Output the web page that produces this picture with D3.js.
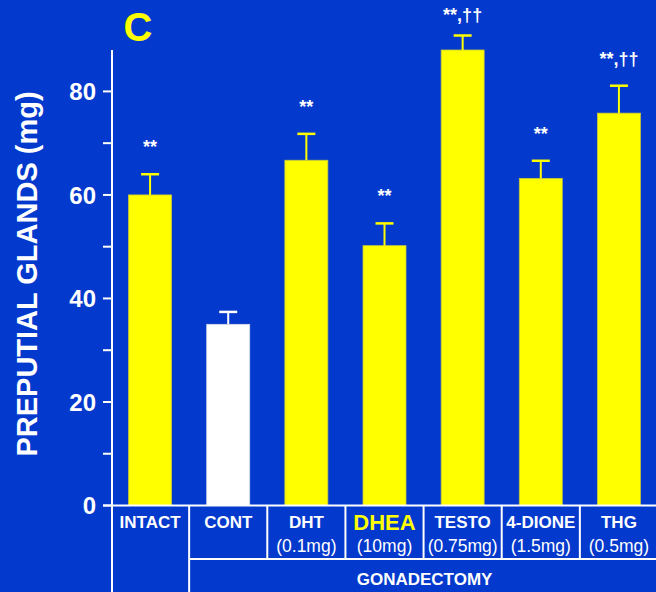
<!DOCTYPE html>
<html>
<head>
<meta charset="utf-8">
<script src="https://cdn.jsdelivr.net/npm/d3@7"></script>
<style>
  html, body { margin: 0; padding: 0; background: #0339cc; }
  svg { display: block; }
  text { font-family: "Liberation Sans", Arial, sans-serif; }
</style>
</head>
<body>
<svg id="chart" width="656" height="592"></svg>
<script>
// ---- data ----
const categories = ["INTACT", "CONT", "DHT", "DHEA", "TESTO", "4-DIONE", "THG"];
const doses      = ["", "", "(0.1mg)", "(10mg)", "(0.75mg)", "(1.5mg)", "(0.5mg)"];
const means      = [60.0, 35.0, 66.7, 50.2, 88.0, 63.2, 75.8];
const errors     = [4.0, 2.4, 5.1, 4.3, 2.8, 3.4, 5.3];
const signif     = ["**", "", "**", "**", "**,††", "**", "**,††"];
const barColors  = ["#ffff00", "#ffffff", "#ffff00", "#ffff00", "#ffff00", "#ffff00", "#ffff00"];
const yTicksMajor = [0, 20, 40, 60, 80];
const yTicksMinor = [10, 30, 50, 70];
const yTitle = "PREPUTIAL GLANDS (mg)";
const panelLabel = "C";
const groupLabel = "GONADECTOMY";

// ---- layout ----
const svg = d3.select("#chart");
const W = 656, H = 592;
const axisX = 112;
const x = d3.scaleBand().domain(categories).range([111, 658]).paddingInner(0.45).paddingOuter(0.225);
const y = d3.scaleLinear().domain([0, 88]).range([505.5, 50]);
const white = "#ffffff", yellow = "#ffff00";

svg.append("rect").attr("width", W).attr("height", H).attr("fill", "#0339cc");

// bars
const data = categories.map((c, i) => ({c, dose: doses[i], m: means[i], e: errors[i], s: signif[i], col: barColors[i]}));
const g = svg.append("g");
g.selectAll("rect.bar").data(data).join("rect")
  .attr("class", "bar")
  .attr("x", d => x(d.c)).attr("width", x.bandwidth())
  .attr("y", d => y(d.m)).attr("height", d => y(0) - y(d.m))
  .attr("fill", d => d.col)
  .attr("stroke", d => d.col === yellow ? "#c9c83a" : "#d8dbe8").attr("stroke-width", 0.8);

// error bars
const capW = 18;
g.selectAll("line.stem").data(data).join("line")
  .attr("x1", d => x(d.c) + x.bandwidth() / 2).attr("x2", d => x(d.c) + x.bandwidth() / 2)
  .attr("y1", d => y(d.m)).attr("y2", d => y(d.m + d.e))
  .attr("stroke", d => d.col).attr("stroke-width", 2);
g.selectAll("line.cap").data(data).join("line")
  .attr("x1", d => x(d.c) + x.bandwidth() / 2 - capW / 2).attr("x2", d => x(d.c) + x.bandwidth() / 2 + capW / 2)
  .attr("y1", d => y(d.m + d.e)).attr("y2", d => y(d.m + d.e))
  .attr("stroke", d => d.col).attr("stroke-width", 2.5);

// significance marks
g.selectAll("text.sig").data(data.filter(d => d.s)).join("text")
  .attr("x", d => x(d.c) + x.bandwidth() / 2)
  .attr("y", d => Math.max(21, y(d.m + d.e) - 21))
  .attr("text-anchor", "middle")
  .attr("fill", white).attr("font-weight", "bold").attr("font-size", 18)
  .text(d => d.s);

// y axis
const ya = svg.append("g");
ya.append("line").attr("x1", axisX).attr("x2", axisX).attr("y1", y(88)).attr("y2", H)
  .attr("stroke", white).attr("stroke-width", 2);
ya.selectAll("line.maj").data(yTicksMajor).join("line")
  .attr("x1", axisX - 9).attr("x2", axisX).attr("y1", d => y(d)).attr("y2", d => y(d))
  .attr("stroke", white).attr("stroke-width", 2);
ya.selectAll("line.min").data(yTicksMinor).join("line")
  .attr("x1", axisX - 9).attr("x2", axisX).attr("y1", d => y(d)).attr("y2", d => y(d))
  .attr("stroke", white).attr("stroke-width", 2);
ya.selectAll("text.tl").data(yTicksMajor).join("text")
  .attr("x", 96).attr("y", d => y(d)).attr("dy", "0.36em")
  .attr("text-anchor", "end").attr("fill", white)
  .attr("font-weight", "bold").attr("font-size", 24)
  .text(d => d);

svg.append("text")
  .attr("transform", `translate(37, ${274}) rotate(-90)`)
  .attr("text-anchor", "middle").attr("fill", white)
  .attr("font-weight", "bold").attr("font-size", 29)
  .text(yTitle);

svg.append("text")
  .attr("x", 138).attr("y", 41).attr("text-anchor", "middle")
  .attr("fill", yellow).attr("font-weight", "bold").attr("font-size", 40)
  .text(panelLabel);

// category table
const tb = svg.append("g");
const base = y(0);
const row2 = 559;
tb.append("line").attr("x1", axisX - 9).attr("x2", W).attr("y1", base).attr("y2", base)
  .attr("stroke", white).attr("stroke-width", 2);
const edges = categories.slice(1).map(c => x(c) - x.step() * x.paddingInner() / 2);
tb.append("line").attr("x1", edges[0]).attr("x2", W).attr("y1", row2).attr("y2", row2)
  .attr("stroke", white).attr("stroke-width", 2);
tb.selectAll("line.sep").data(edges).join("line")
  .attr("x1", d => d).attr("x2", d => d)
  .attr("y1", base).attr("y2", (d, i) => i === 0 ? H : row2)
  .attr("stroke", white).attr("stroke-width", 2);

tb.selectAll("text.cat").data(data).join("text")
  .attr("x", d => x(d.c) + x.bandwidth() / 2)
  .attr("y", d => d.c === "DHEA" ? 530 : 528)
  .attr("text-anchor", "middle")
  .attr("fill", d => d.c === "DHEA" ? yellow : white)
  .attr("font-weight", "bold")
  .attr("font-size", d => d.c === "DHEA" ? 22 : 17)
  .text(d => d.c);
tb.selectAll("text.dose").data(data.filter(d => d.dose)).join("text")
  .attr("x", d => x(d.c) + x.bandwidth() / 2)
  .attr("y", 552)
  .attr("text-anchor", "middle").attr("fill", white)
  .attr("font-size", 17.5)
  .text(d => d.dose);

tb.append("text")
  .attr("x", (edges[0] + W) / 2 + 2).attr("y", 585)
  .attr("text-anchor", "middle").attr("fill", white)
  .attr("font-weight", "bold").attr("font-size", 17)
  .text(groupLabel);
</script>
</body>
</html>
